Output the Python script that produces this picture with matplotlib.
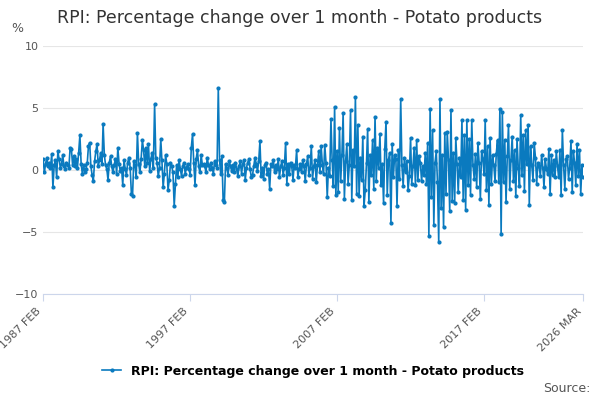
import matplotlib
matplotlib.use("Agg")
import matplotlib.pyplot as plt
import pandas as pd

title = "RPI: Percentage change over 1 month - Potato products"
tick_labels = ["1987 FEB", "1997 FEB", "2007 FEB", "2017 FEB", "2026 MAR"]

# monthly values from 1987 Feb
values = [
    0.9, -0.2, 0.5, 1.0, 0.3, 0.6, 0.2, 1.3, -1.4, 0.4, 0.8,
    -0.6, 1.5, 0.9, 0.2, 0.5, 1.2, 0.3, 0.1, 0.6, 0.4, 0.2, 1.8,
    1.7, 0.4, 1.1, 0.3, 0.9, 0.2, 1.4, 2.8, 0.5, -0.3, 0.4, -0.2,
    0.1, 0.6, 1.9, 2.2, 0.3, -0.4, -0.9, 0.7, 1.5, 2.1, 0.3, 0.8,
    1.4, 0.5, 3.7, 1.2, 0.4, 0.1, -0.8, 0.6, 1.1, 0.3, -0.2, 0.4,
    0.9, -0.3, 1.8, 0.5, -0.1, 0.2, -1.2, 0.8, 0.1, -0.4, 0.6, 1.0,
    0.2, -1.9, -2.1, 0.7, 0.4, -0.6, 3.0, 0.5, -0.2, 0.9, 2.4, 1.6,
    0.3, 1.8, 0.6, 2.1, -0.1, 0.9, 1.4, 0.2, 5.3, 1.0, 0.6, -0.5,
    0.2, 2.5, 0.8, -1.4, -0.3, 1.2, 0.5, -1.6, -0.8, 0.6, 0.3, -0.2,
    -2.9, -1.1, 0.4, -0.6, 0.8, 0.1, -0.5, 0.3, 0.6, -0.3, 0.2, 0.5,
    0.1, -0.4, 1.8, 2.9, 0.6, -1.2, 0.9, 1.6, 0.3, -0.2, 1.2, 0.4,
    0.5, 0.3, -0.2, 1.0, 0.4, 0.1, 0.6, 0.2, -0.3, 0.7, 0.4, 0.2,
    6.6, 0.8, -0.3, 1.1, -2.4, -2.6, 0.5, 0.2, -0.4, 0.7, 0.3, -0.1,
    0.4, -0.2, 0.6, 0.1, -0.5, 0.3, 0.7, -0.3, 0.5, 0.8, -0.8, 0.2,
    0.6, 0.9, 0.1, -0.6, -0.4, 0.3, 1.0, 0.5, -0.1, 0.7, 2.3, -0.5,
    0.2, -0.7, 0.4, 0.6, -0.3, 0.1, -1.5, 0.5, 0.3, 0.8, -0.2, 0.4,
    0.1, 0.9, -0.6, 0.3, 0.7, -0.4, 0.2, 2.2, -1.1, 0.5, -0.3, 0.6,
    0.3, -0.8, 0.4, 0.2, 1.6, -0.6, 0.1, 0.5, -0.2, 0.8, 0.3, -0.9,
    0.5, 1.1, -0.4, 0.2, 1.9, -0.7, 0.3, 0.8, -1.0, 0.4, 1.5, -0.2,
    1.9, 0.4, -0.3, 2.0, 0.6, -2.2, 0.2, -0.5, 4.1, 0.8, -1.3, 5.1,
    -2.0, 1.5, -1.8, 3.4, -0.9, 1.2, 4.6, -2.3, 0.7, 2.1, -1.1, 0.4,
    4.8, -2.4, 1.6, 0.3, 5.9, -1.9, 3.6, -2.1, 1.0, -0.8, 2.7, -2.9,
    -1.6, 0.6, 3.3, -2.6, 1.2, -0.4, 2.4, -1.5, 4.3, -0.9, 1.8, 0.2,
    2.9, -1.2, 0.5, -2.7, 1.7, 3.9, -2.0, 0.8, 1.4, -4.3, 2.1, -0.6,
    1.2, 0.9, -2.9, 1.6, -0.7, 5.7, 0.4, -1.3, 1.0, -0.2, 0.7, -1.6,
    -0.5, 2.6, -1.1, 0.3, 1.8, -1.2, 2.4, -0.8, 1.1, 0.6, -0.9, 0.3,
    -0.4, 1.4, -1.1, 2.2, -5.3, 4.9, -2.2, 3.2, -4.4, 0.6, 1.5, -1.0,
    -5.8, 5.7, -3.1, 1.2, -4.6, 3.0, -1.9, 3.1, 0.8, -3.3, 4.8, -2.5,
    1.4, -2.7, 2.6, 0.5, -1.8, 1.0, -0.6, 4.0, -2.4, 2.8, -3.2, 4.0,
    -1.2, 2.5, -2.0, 4.0, 0.4, -0.7, 1.3, -1.4, 2.2, 0.6, -2.3, 1.5,
    0.9, -0.3, 4.0, -1.6, 1.9, -2.8, 2.6, -1.1, 1.2, 0.4, -0.9, 1.3,
    2.4, -1.0, 4.9, -5.2, 4.7, -1.0, 2.4, -2.6, 1.1, 3.6, -1.5, 0.8,
    2.7, -0.9, 1.6, -2.1, 2.5, 0.2, -1.3, 4.4, -0.4, 2.8, -1.7, 3.2,
    0.5, 3.6, -2.8, 1.9, 0.4, -0.8, 2.2, 1.0, -1.1, 0.6, 0.3, -0.5,
    1.2, 0.2, -1.4, 0.9, 0.1, -0.3, 1.7, -1.9, 1.2, -0.4, 0.8, -0.6,
    1.5, 0.3, -0.6, 1.6, -2.0, 3.2, 0.4, -1.5, 0.9, 1.1, -0.7, 0.2,
    2.3, -1.8, 1.5, 0.6, -1.2, 2.1, -0.5, 1.6, -1.9, 0.4, -0.6,
]

dates = pd.date_range("1987-02-01", periods=len(values), freq="MS")
tick_dates = [dates[0], pd.Timestamp("1997-02-01"), pd.Timestamp("2007-02-01"),
              pd.Timestamp("2017-02-01"), dates[-1]]

color = "#0a7abf"
fig, ax = plt.subplots(figsize=(6, 4), dpi=100)
fig.subplots_adjust(left=0.072, right=0.972, top=0.885, bottom=0.265)

ax.plot(dates, values, color=color, lw=1.2, marker="o", ms=2, label=title)
ax.set_ylim(-10, 10)
ax.set_yticks([-10, -5, 0, 5, 10])
ax.set_xlim(dates[0], dates[-1])
ax.set_xticks(tick_dates)
ax.set_xticklabels(tick_labels, rotation=45, ha="right", fontsize=8, color="#555555")
ax.tick_params(axis="y", labelsize=8, colors="#555555", length=0)
ax.tick_params(axis="x", length=5, color="#ccd6eb")
ax.grid(axis="y", color="#e6e6e6", lw=0.8)
for s in ["top", "right", "left"]:
    ax.spines[s].set_visible(False)
ax.spines["bottom"].set_color("#ccd6eb")

fig.text(0.5, 0.955, title, ha="center", va="center", fontsize=12.5, color="#333333")
fig.text(0.018, 0.92, "%", fontsize=9, color="#555555")
ax.legend(loc="upper center", bbox_to_anchor=(0.5, -0.24), frameon=False,
          handlelength=1.5, prop={"weight": "bold", "size": 9})
fig.text(0.985, 0.02, "Source:", ha="right", fontsize=9, color="#555555")

fig.savefig("out.png", dpi=100)
